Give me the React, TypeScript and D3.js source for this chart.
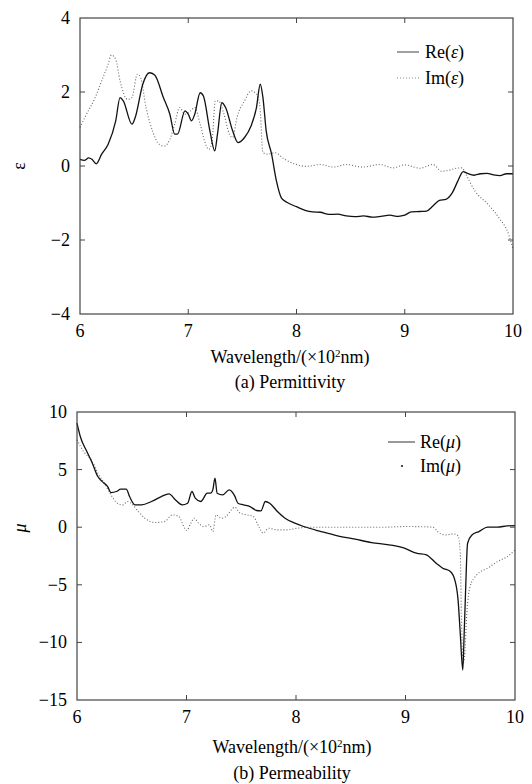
import React from 'react';
import * as d3 from 'd3';

// wavelength in units of 100 nm
const reEpsX = [6.0, 6.04, 6.08, 6.11, 6.15, 6.2, 6.26, 6.33, 6.37, 6.4, 6.48, 6.51, 6.58, 6.64, 6.69, 6.77, 6.83, 6.875, 6.9, 6.97, 7.0, 7.03, 7.06, 7.11, 7.14, 7.2, 7.245, 7.27, 7.31, 7.345, 7.41, 7.46, 7.52, 7.58, 7.63, 7.665, 7.69, 7.72, 7.77, 7.815, 7.86, 7.91, 8.0, 8.08, 8.15, 8.22, 8.3, 8.38, 8.46, 8.54, 8.62, 8.7, 8.78, 8.86, 8.94, 9.0, 9.06, 9.14, 9.2, 9.26, 9.32, 9.38, 9.44, 9.49, 9.54, 9.58, 9.64, 9.7, 9.76, 9.82, 9.88, 9.94, 10.0];
const reEps = [0.18, 0.15, 0.22, 0.18, 0.06, 0.32, 0.59, 1.22, 1.85, 1.76, 1.13, 1.31, 2.21, 2.52, 2.46, 1.85, 1.4, 0.86, 0.86, 1.49, 1.4, 1.22, 1.4, 1.98, 1.89, 0.95, 0.41, 0.86, 1.71, 1.58, 0.95, 0.63, 0.77, 1.08, 1.58, 2.21, 1.85, 0.95, 0.32, -0.41, -0.86, -0.98, -1.1, -1.2, -1.24, -1.25, -1.31, -1.3, -1.35, -1.37, -1.35, -1.38, -1.36, -1.33, -1.36, -1.33, -1.24, -1.23, -1.22, -1.08, -0.93, -0.9, -0.72, -0.41, -0.15, -0.2, -0.25, -0.21, -0.2, -0.24, -0.26, -0.21, -0.21];

const imEpsX = [6.0, 6.06, 6.14, 6.2, 6.26, 6.29, 6.33, 6.37, 6.44, 6.48, 6.53, 6.56, 6.61, 6.67, 6.73, 6.78, 6.83, 6.875, 6.92, 6.97, 7.02, 7.06, 7.11, 7.15, 7.19, 7.22, 7.25, 7.28, 7.33, 7.38, 7.41, 7.45, 7.52, 7.58, 7.63, 7.66, 7.69, 7.74, 7.8, 7.89, 7.99, 8.09, 8.22, 8.34, 8.46, 8.61, 8.77, 8.89, 9.0, 9.14, 9.26, 9.34, 9.4, 9.48, 9.53, 9.56, 9.65, 9.77, 9.87, 9.96, 10.0];
const imEps = [1.04, 1.4, 1.85, 2.3, 2.75, 3.0, 2.88, 2.3, 1.8, 1.85, 2.48, 2.39, 1.58, 0.95, 0.59, 0.54, 0.72, 1.13, 1.58, 1.4, 1.49, 1.58, 1.13, 0.68, 0.45, 0.68, 1.76, 1.76, 1.4, 0.86, 0.77, 1.31, 1.76, 2.03, 1.94, 1.67, 0.36, 0.32, 0.36, 0.18, 0.05, -0.01, 0.04, -0.03, 0.04, -0.03, 0.04, -0.05, 0.03, -0.06, 0.04, -0.14, -0.12, -0.06, -0.05, -0.2, -0.68, -1.04, -1.4, -1.85, -2.25];

const reMuX = [6.0, 6.03, 6.09, 6.14, 6.19, 6.23, 6.28, 6.31, 6.36, 6.4, 6.45, 6.48, 6.53, 6.59, 6.68, 6.77, 6.84, 6.9, 6.96, 7.01, 7.05, 7.08, 7.13, 7.19, 7.22, 7.24, 7.26, 7.28, 7.33, 7.39, 7.44, 7.47, 7.52, 7.58, 7.64, 7.68, 7.72, 7.76, 7.83, 7.9, 7.99, 8.07, 8.23, 8.38, 8.54, 8.69, 8.85, 8.99, 9.1, 9.19, 9.28, 9.34, 9.41, 9.45, 9.48, 9.5, 9.523, 9.535, 9.548, 9.567, 9.607, 9.67, 9.75, 9.84, 9.93, 10.0];
const reMu = [9.03, 7.87, 6.57, 5.56, 4.4, 3.96, 3.53, 3.01, 3.1, 3.3, 3.3, 2.66, 1.94, 1.94, 2.23, 2.66, 2.89, 2.37, 1.94, 2.08, 3.1, 2.52, 2.23, 2.95, 2.95, 3.24, 4.25, 2.95, 2.81, 3.24, 2.72, 2.08, 1.94, 1.79, 1.45, 1.42, 2.23, 2.08, 1.36, 0.78, 0.35, 0.06, -0.38, -0.75, -1.04, -1.33, -1.53, -1.82, -2.26, -2.4, -3.13, -3.56, -3.85, -4.57, -6.31, -9.2, -12.4, -9.49, -5.73, -1.39, -0.67, -0.38, 0.0, 0.0, 0.12, 0.14];

const imMuX = [6.0, 6.06, 6.14, 6.19, 6.25, 6.31, 6.37, 6.42, 6.46, 6.51, 6.56, 6.62, 6.71, 6.8, 6.87, 6.93, 6.975, 7.0, 7.04, 7.07, 7.11, 7.16, 7.21, 7.24, 7.27, 7.32, 7.36, 7.41, 7.44, 7.49, 7.55, 7.61, 7.66, 7.7, 7.75, 7.83, 7.92, 8.01, 8.14, 8.5, 8.8, 9.0, 9.15, 9.25, 9.31, 9.37, 9.44, 9.48, 9.5, 9.51, 9.526, 9.54, 9.56, 9.59, 9.65, 9.75, 9.84, 9.93, 10.0];
const imMu = [7.58, 6.57, 5.7, 4.69, 3.82, 2.81, 2.08, 1.94, 2.23, 1.94, 1.36, 0.78, 0.41, 0.49, 1.07, 0.93, 0.06, -0.29, 0.35, 0.78, 0.35, 0.06, 0.2, -0.38, 1.07, 0.78, 0.93, 1.5, 1.74, 1.22, 1.07, 0.93, 0.06, -0.52, -0.09, -0.23, -0.23, -0.09, 0.0, 0.0, 0.0, 0.06, 0.04, 0.0, -0.52, -0.67, -0.58, -0.75, -2.26, -7.47, -11.8, -11.2, -7.47, -5.15, -4.14, -3.56, -2.98, -2.55, -1.97];

const xTicks = [6, 7, 8, 9, 10];
const epsTicks = [-4, -2, 0, 2, 4];
const muTicks = [-15, -10, -5, 0, 5, 10];

const FONT = 'Liberation Serif, DejaVu Serif, serif';
const AXIS = '#444';

type Series = { xs: number[]; ys: number[]; dashed: boolean };

function Panel({ left, right, top, bottom, yDomain, yTicks, series, children }: {
  left: number; right: number; top: number; bottom: number;
  yDomain: [number, number]; yTicks: number[]; series: Series[]; children?: React.ReactNode;
}) {
  const x = d3.scaleLinear().domain([6, 10]).range([left, right]);
  const y = d3.scaleLinear().domain(yDomain).range([bottom, top]);
  const line = d3.line<[number, number]>()
    .x((d) => x(d[0]))
    .y((d) => y(d[1]))
    .curve(d3.curveMonotoneX);
  const fmt = (v: number) => (v < 0 ? '\u2212' + Math.abs(v) : String(v));
  const tl = 5;

  return (
    <g>
      {series.map((s, i) => (
        <path
          key={i}
          d={line(s.xs.map((v, j) => [v, s.ys[j]] as [number, number])) || ''}
          fill="none"
          stroke={s.dashed ? '#666' : '#111'}
          strokeWidth={s.dashed ? 1.1 : 1.3}
          strokeDasharray={s.dashed ? '1,2' : undefined}
        />
      ))}
      <rect x={left} y={top} width={right - left} height={bottom - top} fill="none" stroke={AXIS} strokeWidth={1.2} />
      {xTicks.slice(1, -1).map((t) => (
        <g key={'xt' + t}>
          <line x1={x(t)} x2={x(t)} y1={bottom} y2={bottom - tl} stroke={AXIS} />
          <line x1={x(t)} x2={x(t)} y1={top} y2={top + tl} stroke={AXIS} />
        </g>
      ))}
      {xTicks.map((t) => (
        <text key={'xl' + t} x={x(t)} y={bottom + 23} textAnchor="middle" fontSize={18} fontFamily={FONT}>{t}</text>
      ))}
      {yTicks.slice(1, -1).map((t) => (
        <g key={'yt' + t}>
          <line x1={left} x2={left + tl} y1={y(t)} y2={y(t)} stroke={AXIS} />
          <line x1={right} x2={right - tl} y1={y(t)} y2={y(t)} stroke={AXIS} />
        </g>
      ))}
      {yTicks.map((t) => (
        <text key={'yl' + t} x={left - 10} y={y(t) + 6} textAnchor="end" fontSize={18} fontFamily={FONT}>{fmt(t)}</text>
      ))}
      {children}
    </g>
  );
}

export default function App() {
  return (
    <div style={{ position: 'absolute', left: 0, top: 0 }}>
      <svg width={532} height={784} style={{ display: 'block', background: '#fff' }} fontFamily={FONT}>
        <Panel
          left={80} right={513} top={18} bottom={314}
          yDomain={[-4, 4]} yTicks={epsTicks}
          series={[
            { xs: imEpsX, ys: imEps, dashed: true },
            { xs: reEpsX, ys: reEps, dashed: false },
          ]}
        >
          <line x1={397} x2={419} y1={52} y2={52} stroke="#888" strokeWidth={1.6} />
          <text x={425} y={58} fontSize={18} fontFamily={FONT}>Re(<tspan fontStyle="italic">ε</tspan>)</text>
          <line x1={397} x2={419} y1={78} y2={78} stroke="#888" strokeWidth={1} strokeDasharray="1,2" />
          <text x={425} y={84} fontSize={18} fontFamily={FONT}>Im(<tspan fontStyle="italic">ε</tspan>)</text>
        </Panel>
        <text transform="translate(25,166) rotate(-90)" textAnchor="middle" fontSize={18} fontFamily={FONT}>ε</text>
        <text x={290} y={363} textAnchor="middle" fontSize={18} fontFamily={FONT}>
          Wavelength/(×10<tspan fontSize={11} dy={-6}>2</tspan><tspan dy={6}>nm)</tspan>
        </text>
        <text x={290} y={388} textAnchor="middle" fontSize={18} fontFamily={FONT}>(a) Permittivity</text>

        <Panel
          left={77} right={515} top={412} bottom={700}
          yDomain={[-15, 10]} yTicks={muTicks}
          series={[
            { xs: imMuX, ys: imMu, dashed: true },
            { xs: reMuX, ys: reMu, dashed: false },
          ]}
        >
          <line x1={388} x2={415} y1={442} y2={442} stroke="#333" strokeWidth={1} />
          <text x={420} y={448} fontSize={18} fontFamily={FONT}>Re(<tspan fontStyle="italic">μ</tspan>)</text>
          <circle cx={402} cy={466} r={1.1} fill="#222" />
          <text x={420} y={472} fontSize={18} fontFamily={FONT}>Im(<tspan fontStyle="italic">μ</tspan>)</text>
        </Panel>
        <text transform="translate(26,528) rotate(-90)" textAnchor="middle" fontSize={18} fontStyle="italic" fontFamily={FONT}>μ</text>
        <text x={292} y={753} textAnchor="middle" fontSize={18} fontFamily={FONT}>
          Wavelength/(×10<tspan fontSize={11} dy={-6}>2</tspan><tspan dy={6}>nm)</tspan>
        </text>
        <text x={292} y={779} textAnchor="middle" fontSize={18} fontFamily={FONT}>(b) Permeability</text>
      </svg>
    </div>
  );
}
